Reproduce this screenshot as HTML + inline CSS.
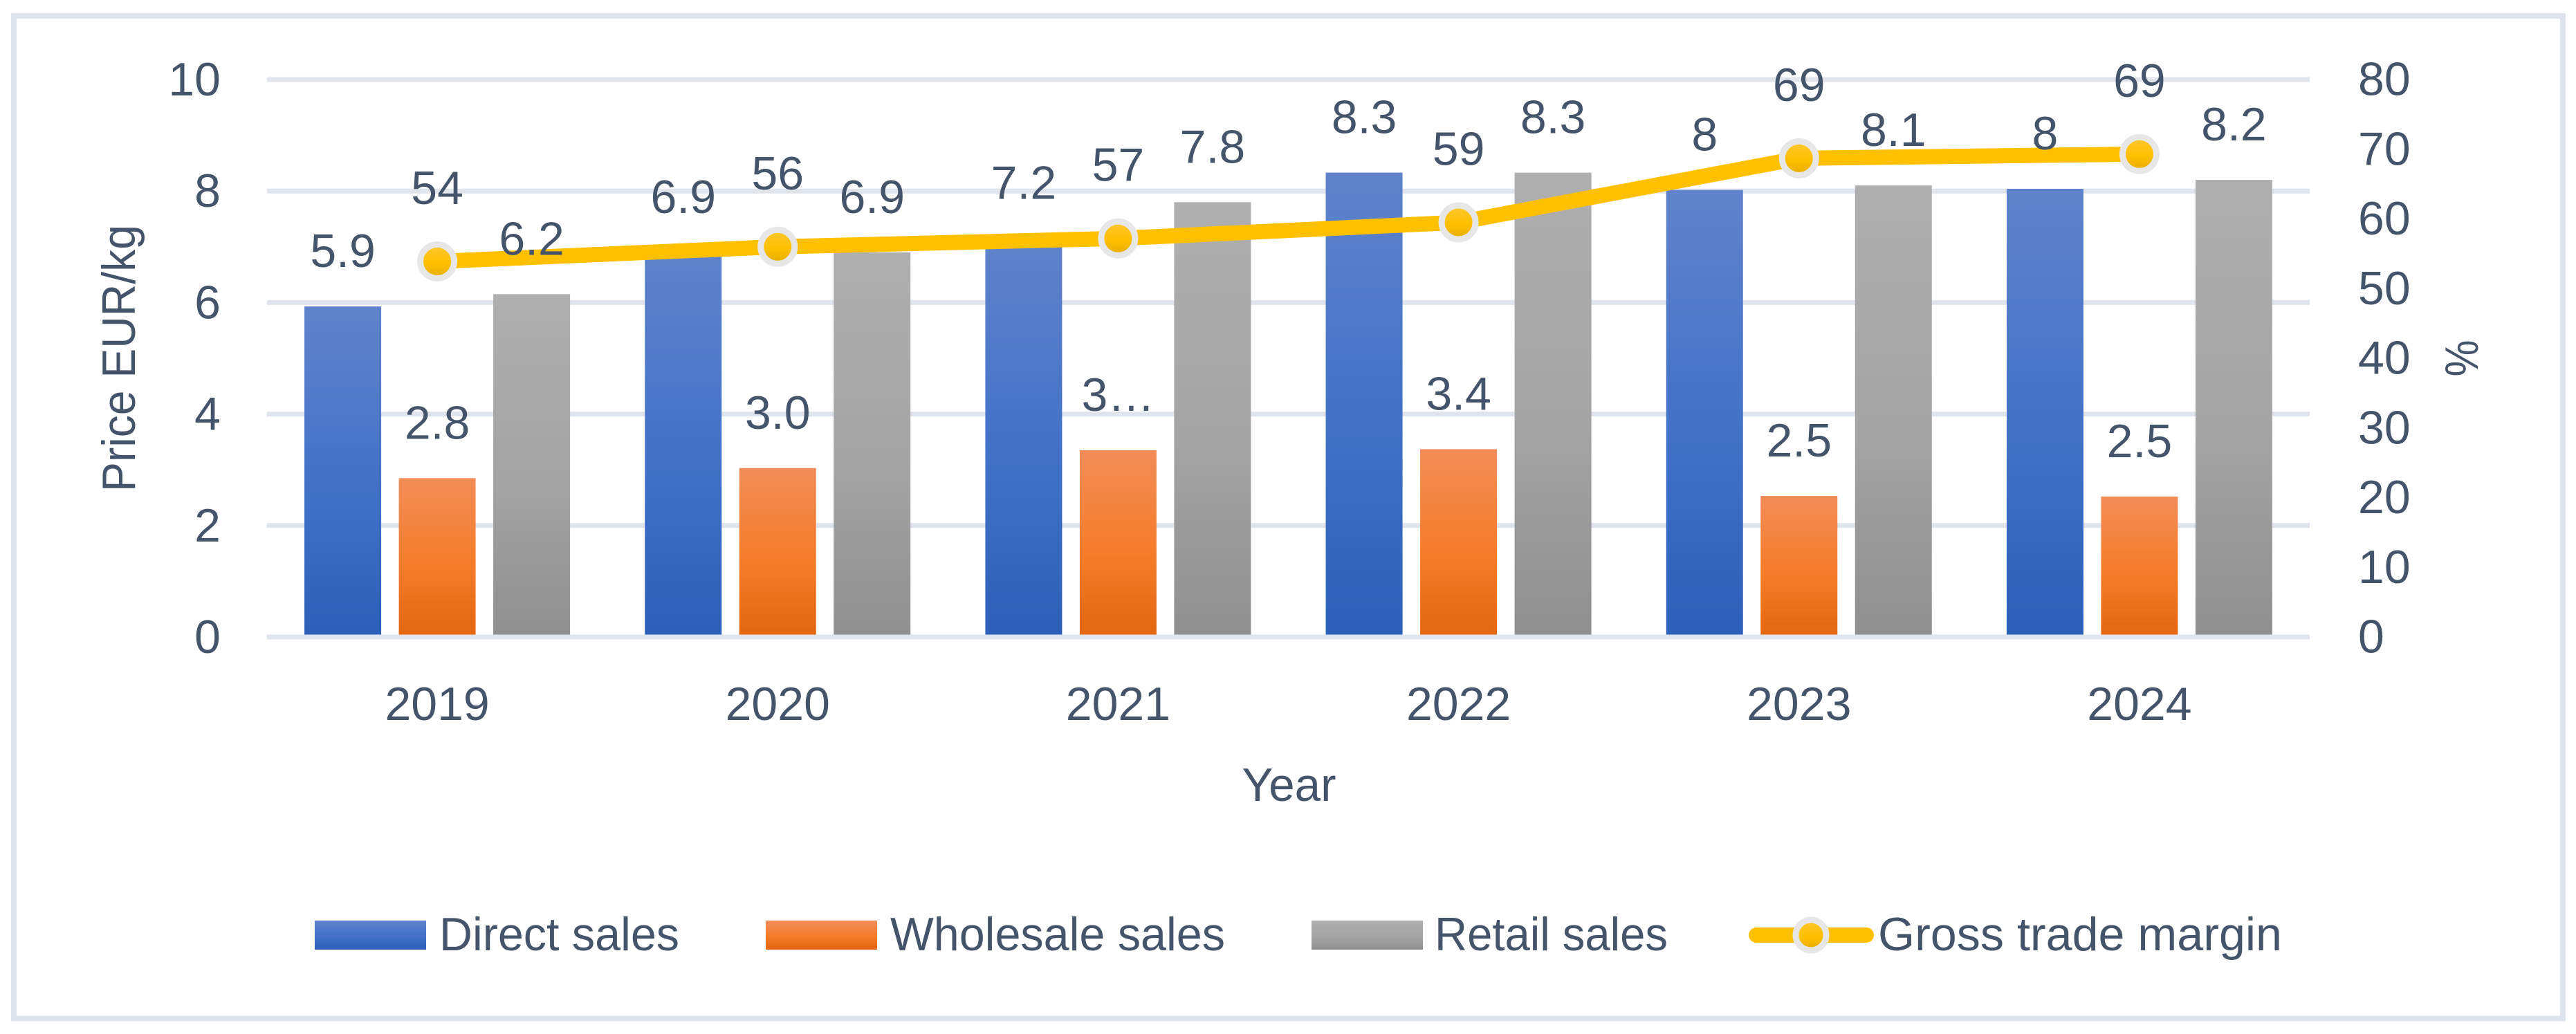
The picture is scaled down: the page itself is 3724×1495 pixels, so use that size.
<!DOCTYPE html>
<html lang="en">
<head>
<meta charset="utf-8">
<title>Price and gross trade margin chart</title>
<style>
  html, body { margin: 0; padding: 0; background: #fff; }
  svg { display: block; }
  text { font-family: "Liberation Sans", sans-serif; fill: #44546a; font-size: 68px; }
</style>
</head>
<body>
<svg id="chart" xmlns="http://www.w3.org/2000/svg" width="3724" height="1495" viewBox="0 0 3724 1495">
  <defs>
    <linearGradient id="grad-blue" x1="0" y1="0" x2="0" y2="1">
      <stop offset="0" stop-color="#6083cc"/><stop offset="0.6" stop-color="#3f6fc6"/><stop offset="1" stop-color="#2c5fb8"/>
    </linearGradient>
    <linearGradient id="grad-orange" x1="0" y1="0" x2="0" y2="1">
      <stop offset="0" stop-color="#f18d58"/><stop offset="0.55" stop-color="#f57c2a"/><stop offset="1" stop-color="#e36610"/>
    </linearGradient>
    <linearGradient id="grad-gray" x1="0" y1="0" x2="0" y2="1">
      <stop offset="0" stop-color="#afafaf"/><stop offset="0.55" stop-color="#a4a4a4"/><stop offset="1" stop-color="#8f8f8f"/>
    </linearGradient>
    <linearGradient id="grad-gold" x1="0" y1="0" x2="0" y2="1">
      <stop offset="0" stop-color="#ffc732"/><stop offset="0.55" stop-color="#ffc000"/><stop offset="1" stop-color="#e6ad00"/>
    </linearGradient>
  </defs>

  <rect x="20" y="23" width="3685" height="1449.5" fill="#fff" stroke="#dfe3ec" stroke-width="8"/>

  <g id="grid"></g>
  <g id="bars"></g>
  <g id="zero-line"></g>
  <g id="line"></g>
  <g id="labels"></g>
  <g id="axes"></g>

  <text transform="translate(195,518) rotate(-90)" text-anchor="middle" textLength="386" lengthAdjust="spacingAndGlyphs">Price EUR/kg</text>
  <text transform="translate(3582,518) rotate(-90)" text-anchor="middle" textLength="53" lengthAdjust="spacingAndGlyphs">%</text>
  <text x="1863.5" y="1158" text-anchor="middle" textLength="136" lengthAdjust="spacingAndGlyphs">Year</text>

  <g>
    <g>
      <rect x="455" y="1331" width="161" height="42" fill="url(#grad-blue)"/>
      <text x="635" y="1374" textLength="347" lengthAdjust="spacingAndGlyphs">Direct sales</text>
    </g>
    <g>
      <rect x="1107" y="1331" width="161" height="42" fill="url(#grad-orange)"/>
      <text x="1287" y="1374" textLength="484" lengthAdjust="spacingAndGlyphs">Wholesale sales</text>
    </g>
    <g>
      <rect x="1896" y="1331" width="161" height="42" fill="url(#grad-gray)"/>
      <text x="2074" y="1374" textLength="337" lengthAdjust="spacingAndGlyphs">Retail sales</text>
    </g>
    <g>
      <line x1="2539" y1="1352" x2="2698" y2="1352" stroke="#ffc000" stroke-width="22" stroke-linecap="round"/>
      <circle cx="2618" cy="1352" r="22" fill="url(#grad-gold)" stroke="#e7e7e7" stroke-width="9"/>
      <text x="2715" y="1374" textLength="584" lengthAdjust="spacingAndGlyphs">Gross trade margin</text>
    </g>
  </g>
</svg>

<script>
const categories = ["2019", "2020", "2021", "2022", "2023", "2024"];
const directSales = [5.93, 6.9, 7.15, 8.33, 8.02, 8.04];
const wholesaleSales = [2.85, 3.03, 3.35, 3.37, 2.53, 2.52];
const retailSales = [6.15, 6.9, 7.8, 8.33, 8.1, 8.2];
const grossTradeMargin = [53.9, 56, 57.2, 59.5, 68.7, 69.3];
const directLabels = ["5.9", "6.9", "7.2", "8.3", "8", "8"];
const wholesaleLabels = ["2.8", "3.0", "3…", "3.4", "2.5", "2.5"];
const retailLabels = ["6.2", "6.9", "7.8", "8.3", "8.1", "8.2"];
const marginLabels = ["54", "56", "57", "59", "69", "69"];
const leftTicks = [0, 2, 4, 6, 8, 10];
const rightTicks = [0, 10, 20, 30, 40, 50, 60, 70, 80];

const NS = "http://www.w3.org/2000/svg";
const plot = { left: 386, right: 3339, top: 115, bottom: 921 };
const leftMax = 10;
const rightMax = 80;
const barWidth = 111;
const barStep = 136.5;

function xBand(i) {
  return plot.left + (i + 0.5) * (plot.right - plot.left) / categories.length;
}
function yLeft(v) {
  return plot.bottom - (v / leftMax) * (plot.bottom - plot.top);
}
function yRight(v) {
  return plot.bottom - (v / rightMax) * (plot.bottom - plot.top);
}
function make(tag, attrs, parent, txt) {
  const el = document.createElementNS(NS, tag);
  for (const k in attrs) el.setAttribute(k, attrs[k]);
  if (txt !== undefined) el.textContent = txt;
  parent.appendChild(el);
  return el;
}

const gridG = document.getElementById("grid");
const barsG = document.getElementById("bars");
const zeroG = document.getElementById("zero-line");
const lineG = document.getElementById("line");
const labelsG = document.getElementById("labels");
const axesG = document.getElementById("axes");

leftTicks.forEach(function (t) {
  const host = t === 0 ? zeroG : gridG;
  const gl = make("line", { x1: plot.left, x2: plot.right, y1: yLeft(t), y2: yLeft(t), stroke: "#e0e4ec", "stroke-width": 7 }, host);
  
  
  const tl = make("text", { x: 319, y: yLeft(t) + 23, "text-anchor": "end" }, axesG, String(t));
  
  
});

rightTicks.forEach(function (t) {
  const tl = make("text", { x: 3409, y: yRight(t) + 22.5 }, axesG, String(t));
  
  
});

categories.forEach(function (c, i) {
  const tl = make("text", { x: xBand(i), y: 1041, "text-anchor": "middle" }, axesG, c);
  
  

  const cx = [xBand(i) - barStep, xBand(i), xBand(i) + barStep];

  const b1 = make("rect", { x: cx[0] - barWidth / 2, y: yLeft(directSales[i]), width: barWidth, height: yLeft(0) - yLeft(directSales[i]), fill: "url(#grad-blue)" }, barsG);
  
  
  const b2 = make("rect", { x: cx[1] - barWidth / 2, y: yLeft(wholesaleSales[i]), width: barWidth, height: yLeft(0) - yLeft(wholesaleSales[i]), fill: "url(#grad-orange)" }, barsG);
  
  
  const b3 = make("rect", { x: cx[2] - barWidth / 2, y: yLeft(retailSales[i]), width: barWidth, height: yLeft(0) - yLeft(retailSales[i]), fill: "url(#grad-gray)" }, barsG);
  
  

  const l1 = make("text", { x: cx[0], y: yLeft(directSales[i]) - 57, "text-anchor": "middle" }, labelsG, directLabels[i]);
  
  
  const l2 = make("text", { x: cx[1], y: yLeft(wholesaleSales[i]) - 57, "text-anchor": "middle" }, labelsG, wholesaleLabels[i]);
  
  
  const l3 = make("text", { x: cx[2], y: yLeft(retailSales[i]) - 57, "text-anchor": "middle" }, labelsG, retailLabels[i]);
  
  
  const l4 = make("text", { x: cx[1], y: yRight(grossTradeMargin[i]) - 83, "text-anchor": "middle" }, labelsG, marginLabels[i]);
  
  
});

const linePoints = grossTradeMargin.map(function (v, i) {
  return xBand(i) + "," + yRight(v);
}).join(" ");
const polyline = make("polyline", { points: linePoints, fill: "none", stroke: "#ffc000", "stroke-width": 22, "stroke-linejoin": "round" }, lineG);



grossTradeMargin.forEach(function (v, i) {
  const m = make("circle", { cx: xBand(i), cy: yRight(v), r: 24.5, fill: "url(#grad-gold)", stroke: "#e7e7e7", "stroke-width": 9 }, lineG);
  
  
});
</script>
</body>
</html>
